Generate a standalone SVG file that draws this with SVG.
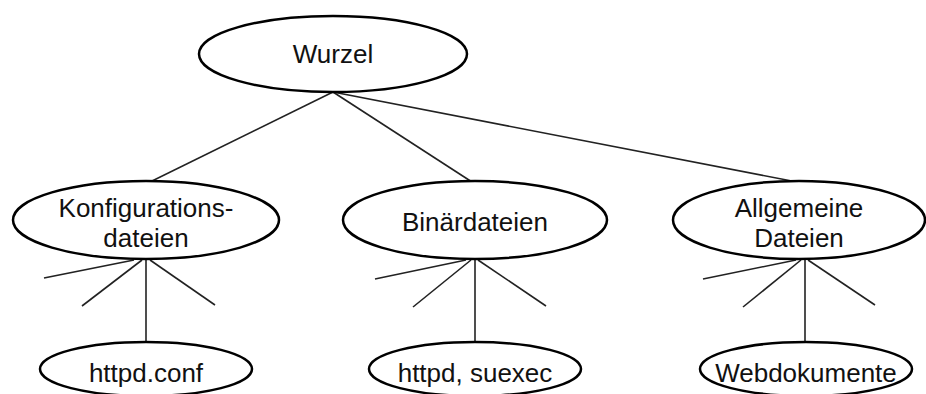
<svg xmlns="http://www.w3.org/2000/svg" width="926" height="394" viewBox="0 0 926 394">
<style>
.n ellipse{fill:#fff;stroke:#000;stroke-width:2.5}
.n text{font-family:"Liberation Sans",Arial,sans-serif;font-size:26px;fill:#111;text-anchor:middle}
#connectors line{stroke:#222;stroke-width:1.6}
</style>
<rect width="926" height="394" fill="#fff"/>
<g id="connectors">
<line x1="333" y1="92" x2="150" y2="182"/>
<line x1="333" y1="92" x2="472" y2="182"/>
<line x1="333" y1="92" x2="797" y2="182"/>
<line x1="134" y1="260" x2="44" y2="278"/>
<line x1="142" y1="260" x2="82" y2="306"/>
<line x1="150" y1="260" x2="215" y2="305"/>
<line x1="146" y1="260" x2="146" y2="342"/>
<line x1="466" y1="260" x2="375" y2="279"/>
<line x1="471" y1="260" x2="413" y2="307"/>
<line x1="478" y1="260" x2="546" y2="306"/>
<line x1="475" y1="260" x2="475" y2="342"/>
<line x1="796" y1="260" x2="703" y2="279"/>
<line x1="801" y1="260" x2="743" y2="307"/>
<line x1="808" y1="260" x2="875" y2="305"/>
<line x1="805" y1="260" x2="805" y2="342"/>
</g>
<g id="wurzel" class="n"><ellipse cx="333" cy="54" rx="134" ry="38"/><text x="333" y="63">Wurzel</text></g>
<g id="konfig" class="n"><ellipse cx="146" cy="220" rx="133" ry="39"/><text x="146" y="217">Konfigurations-</text><text x="146" y="247">dateien</text></g>
<g id="binaer" class="n"><ellipse cx="475" cy="220" rx="132" ry="39"/><text x="475" y="231">Binärdateien</text></g>
<g id="allgemein" class="n"><ellipse cx="799" cy="220" rx="126" ry="39"/><text x="799" y="217">Allgemeine</text><text x="799" y="247">Dateien</text></g>
<g id="httpdconf" class="n"><ellipse cx="146" cy="369" rx="106" ry="27"/><text x="146" y="382">httpd.conf</text></g>
<g id="httpdsuexec" class="n"><ellipse cx="475" cy="369" rx="106" ry="27"/><text x="475" y="382">httpd, suexec</text></g>
<g id="webdok" class="n"><ellipse cx="806" cy="369" rx="106" ry="27"/><text x="806" y="382">Webdokumente</text></g>
</svg>
